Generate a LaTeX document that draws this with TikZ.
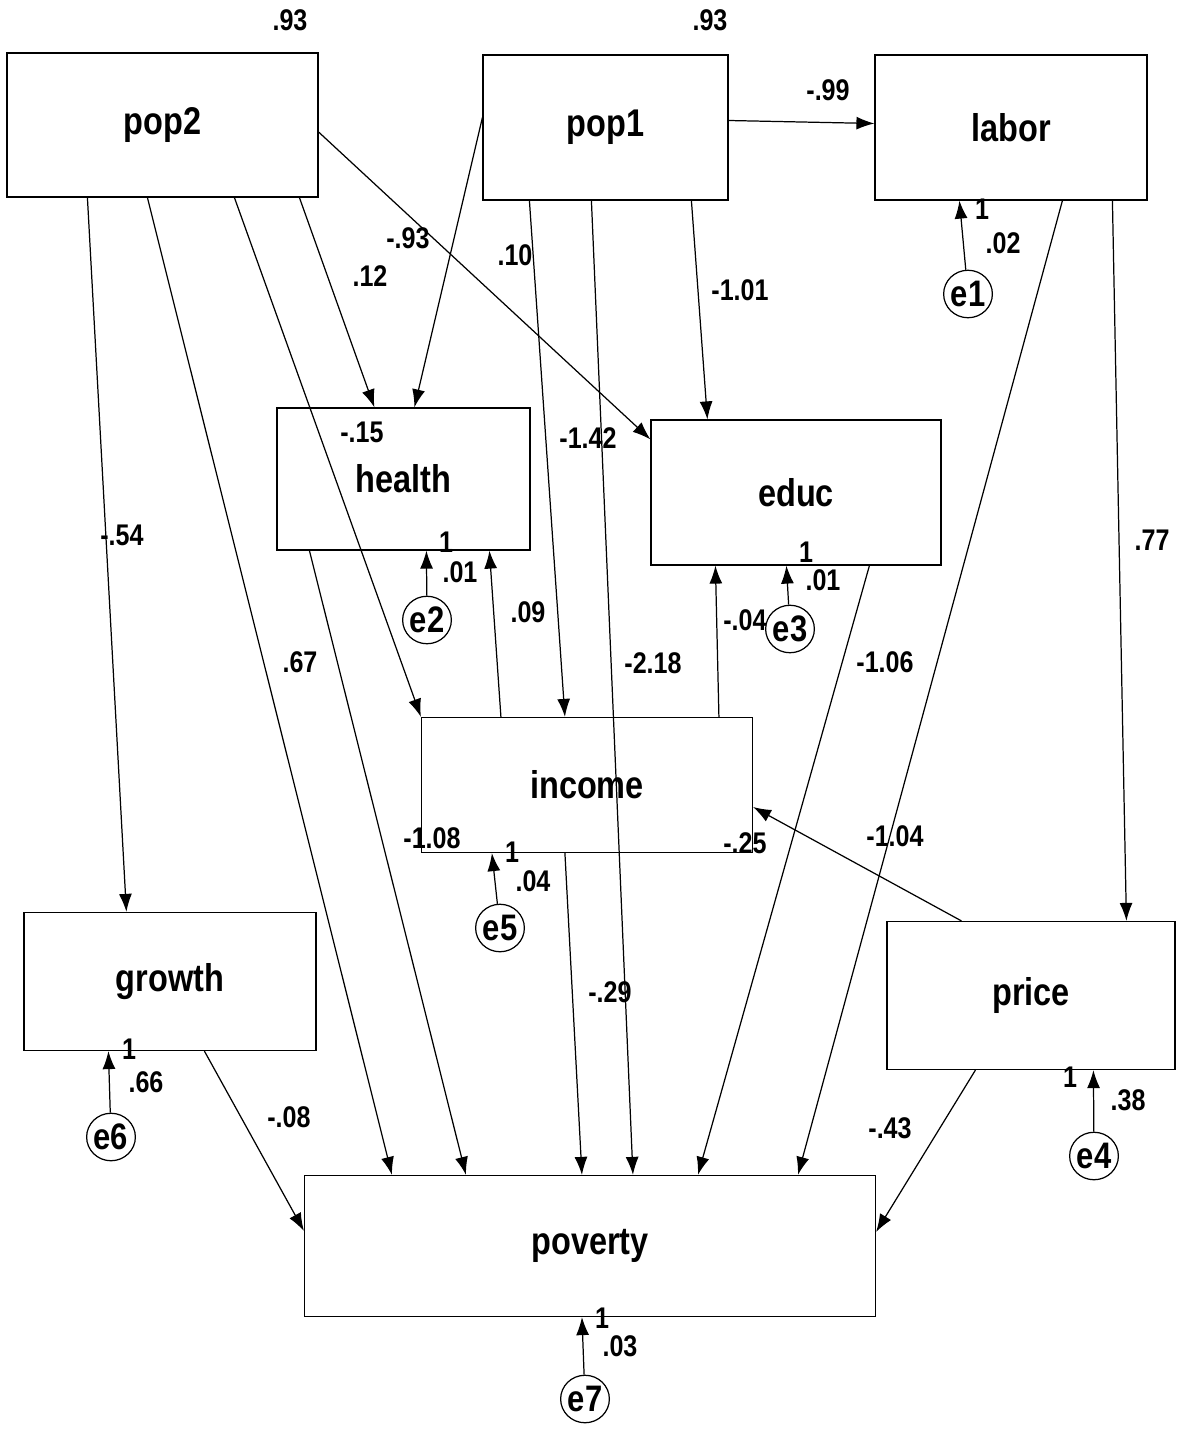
\documentclass[tikz,border=0pt]{standalone}
\usepackage{fontspec}
\setmainfont{Liberation Sans}[FakeStretch=0.84]
\usetikzlibrary{arrows.meta,calc,shapes.geometric}

\begin{document}
\begin{tikzpicture}
      [x=0.02cm,y=-0.02cm,line width=0.7pt,>={Latex[length=3.6mm,width=2.6mm]},
      var/.style={shape=rectangle,draw,inner sep=0pt,font=\fontsize{22}{22}\selectfont\bfseries},
      err/.style={shape=ellipse,draw,inner sep=0pt,minimum width=0.8cm,minimum height=0.95cm,font=\fontsize{21}{21}\selectfont\bfseries},
      wt/.style={inner sep=0pt,font=\fontsize{17}{17}\selectfont\bfseries}]
\useasboundingbox (0,0) rectangle (1176,1436);
\node[var,minimum width=6.22cm,minimum height=2.88cm] (pop2) at (162.5,125) {pop2};
\node[var,minimum width=4.9cm,minimum height=2.9cm] (pop1) at (605.5,127.5) {pop1};
\node[var,minimum width=5.44cm,minimum height=2.9cm] (labor) at (1011,127.5) {labor};
\node[var,minimum width=5.06cm,minimum height=2.84cm] (health) at (403.5,479) {health};
\node[var,minimum width=5.8cm,minimum height=2.9cm] (educ) at (796,492.5) {educ};
\node[var,minimum width=6.62cm,minimum height=2.7cm] (income) at (587,785) {income};
\node[var,minimum width=5.84cm,minimum height=2.76cm] (growth) at (170,981.5) {growth};
\node[var,minimum width=5.76cm,minimum height=2.96cm] (price) at (1031,995.5) {price};
\node[var,minimum width=11.42cm,minimum height=2.82cm] (poverty) at (590,1246) {poverty};

\node[err] (e1) at (968,294) {e1};
\node[err] (e2) at (427,620) {e2};
\node[err] (e3) at (790,629) {e3};
\node[err] (e5) at (500,928) {e5};
\node[err] (e6) at (111,1137) {e6};
\node[err] (e4) at (1094,1156) {e4};
\node[err] (e7) at (585,1399) {e7};

\draw[->] ($(pop2.south west)+(293,0)$) -- ($(health.north west)+(98,0)$);
\draw[->] ($(pop1.west)+(0,-10)$) -- ($(health.north west)+(138,0)$);
\draw[->] ($(pop2.east)+(0,7)$) -- ($(educ.north west)+(0,20)$);
\draw[->] ($(pop1.east)+(0,-7)$) -- ($(labor.west)+(0,-4)$);
\draw[->] ($(pop1.south west)+(209,0)$) -- ($(educ.north west)+(57,0)$);
\draw[->] ($(pop1.south west)+(47,0)$) -- ($(income.north west)+(144,0)$);
\draw[->] ($(pop1.south west)+(109,0)$) -- ($(poverty.north west)+(329,0)$);
\draw[->] ($(pop2.south west)+(81,0)$) -- ($(growth.north west)+(103,0)$);
\draw[->] ($(pop2.south west)+(141,0)$) -- ($(poverty.north west)+(88,0)$);
\draw[->] ($(pop2.south west)+(228,0)$) -- (income.north west);
\draw[->] ($(health.south west)+(33,0)$) -- ($(poverty.north west)+(162,0)$);
\draw[->] ($(income.north west)+(80,0)$) -- ($(health.south west)+(213,0)$);
\draw[->] ($(income.north west)+(298,0)$) -- ($(educ.south west)+(65,0)$);
\draw[->] ($(income.south west)+(144,0)$) -- ($(poverty.north west)+(278,0)$);
\draw[->] ($(educ.south west)+(219,0)$) -- ($(poverty.north west)+(394,0)$);
\draw[->] ($(labor.south west)+(188,0)$) -- ($(poverty.north west)+(494,0)$);
\draw[->] ($(labor.south west)+(238,0)$) -- ($(price.north west)+(240,0)$);
\draw[->] ($(price.north west)+(75,0)$) -- ($(income.east)+(0,22)$);
\draw[->] ($(growth.south west)+(181,0)$) -- ($(poverty.west)+(0,-15)$);
\draw[->] ($(price.south west)+(89,0)$) -- ($(poverty.east)+(0,-14)$);

\draw[->] (e1) -- ($(labor.south west)+(85,0)$);
\draw[->] (e2) -- ($(health.south west)+(150,0)$);
\draw[->] (e3) -- ($(educ.south west)+(136,0)$);
\draw[->] (e5) -- ($(income.south west)+(71,0)$);
\draw[->] (e6) -- ($(growth.south west)+(85,0)$);
\draw[->] (e4) -- ($(price.south west)+(207,0)$);
\draw[->] (e7) -- ($(poverty.south west)+(278,0)$);

\node[wt] (vpop2) at (290,20) {.93};
\node[wt] (vpop1) at (710,20) {.93};
\node[wt] (w1) at (828,90) {-.99};
\node[wt] (w2) at (370,276) {.12};
\node[wt] (w3) at (408,238) {-.93};
\node[wt] (w4) at (515,255) {.10};
\node[wt] (w5) at (740,290) {-1.01};
\node[wt] (w6) at (362,432) {-.15};
\node[wt] (w7) at (588,438) {-1.42};
\node[wt] (w8) at (122,535) {-.54};
\node[wt] (w9) at (528,612) {.09};
\node[wt] (w10) at (653,663) {-2.18};
\node[wt] (w11) at (300,662) {.67};
\node[wt] (w12) at (885,662) {-1.06};
\node[wt] (w13) at (1152,540) {.77};
\node[wt] (w14) at (745,620) {-.04};
\node[wt] (w15) at (432,838) {-1.08};
\node[wt] (w16) at (745,843) {-.25};
\node[wt] (w17) at (895,836) {-1.04};
\node[wt] (w18) at (610,992) {-.29};
\node[wt] (w19) at (289,1117) {-.08};
\node[wt] (w20) at (890,1128) {-.43};

\node[wt] (o1) at (982,209) {1};
\node[wt] (v1) at (1003,243) {.02};
\node[wt] (o2) at (446,542) {1};
\node[wt] (v2) at (460,572) {.01};
\node[wt] (o3) at (806,552) {1};
\node[wt] (v3) at (823,580) {.01};
\node[wt] (o5) at (512,852) {1};
\node[wt] (v5) at (533,881) {.04};
\node[wt] (o6) at (129,1049) {1};
\node[wt] (v6) at (146,1082) {.66};
\node[wt] (o4) at (1070,1077) {1};
\node[wt] (v4) at (1128,1100) {.38};
\node[wt] (o7) at (602,1318) {1};
\node[wt] (v7) at (620,1346) {.03};
\end{tikzpicture}
\end{document}
